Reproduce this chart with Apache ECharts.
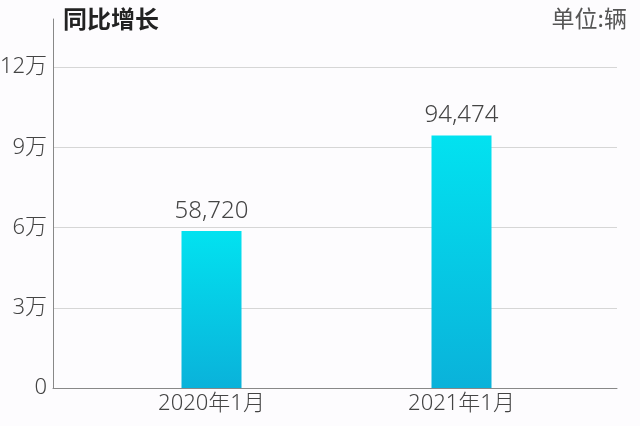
<!DOCTYPE html>
<html>
<head>
<meta charset="utf-8">
<script src="https://cdn.jsdelivr.net/npm/echarts@6/dist/echarts.min.js"></script>
<style>html,body{margin:0;padding:0;background:#fdfcfe;}#c{width:640px;height:426px;}</style>
</head>
<body>
<div id="c"></div>
<script>
var categories = ['2020年1月', '2021年1月'];
var values = [58720, 94474];
var yTicks = [0, 30000, 60000, 90000, 120000];
var yTickLabels = ['0', '3万', '6万', '9万', '12万'];
var titleText = '同比增长';
var unitText = '单位:辆';

var numFont = "'Noto Sans', 'Noto Sans CJK SC', sans-serif";
var chart = echarts.init(document.getElementById('c'));
chart.setOption({
  backgroundColor: '#fdfcfe',
  animation: false,
  title: [
    { text: titleText, left: 58, top: 2, textStyle: { fontSize: 24, fontWeight: 'bold', color: '#222', fontFamily: "'Noto Sans CJK SC', sans-serif" } },
    { text: unitText, right: 8, top: 2, textStyle: { fontSize: 23, fontWeight: 'normal', color: '#555', fontFamily: "'Noto Sans CJK SC', sans-serif" } }
  ],
  grid: { left: 53, right: 23, top: 19, bottom: 38, containLabel: false, outerBoundsMode: 'none' },
  xAxis: {
    type: 'value',
    min: -0.634, max: 1.622,
    axisLine: { show: true, onZero: false, lineStyle: { color: '#888', width: 1 } },
    axisTick: { show: false },
    splitLine: { show: false },
    axisLabel: {
      customValues: [0, 1],
      formatter: function (v) { return categories[Math.round(v)]; },
      fontSize: 22, fontWeight: 300, color: '#444', margin: 5, fontFamily: numFont
    }
  },
  yAxis: {
    type: 'value',
    min: 0, max: 138000,
    axisLine: { show: true, onZero: false, lineStyle: { color: '#888', width: 1 } },
    axisTick: { show: false },
    axisLabel: {
      customValues: yTicks,
      formatter: function (v) { var i = yTicks.indexOf(v); return i >= 0 ? yTickLabels[i] : ''; },
      fontSize: 22, fontWeight: 300, color: '#444', margin: 6, fontFamily: numFont
    },
    interval: 30000,
    splitLine: { show: true, lineStyle: { color: ['#d6d6d6', '#d6d6d6', '#d6d6d6', '#d6d6d6', '#d6d6d6', 'rgba(0,0,0,0)'], width: 1 } }
  },
  series: [{
    type: 'bar',
    data: values.map(function (v, i) { return [i, v]; }),
    barWidth: 60,
    itemStyle: {
      color: new echarts.graphic.LinearGradient(0, 0, 0, 1, [
        { offset: 0, color: '#02e2f0' },
        { offset: 1, color: '#0ab2da' }
      ])
    },
    label: {
      show: true, position: 'top', distance: 8,
      formatter: function (p) { return p.value[1].toLocaleString('en-US'); },
      fontSize: 24, fontWeight: 300, color: '#444', fontFamily: numFont
    }
  }]
});
</script>
</body>
</html>
